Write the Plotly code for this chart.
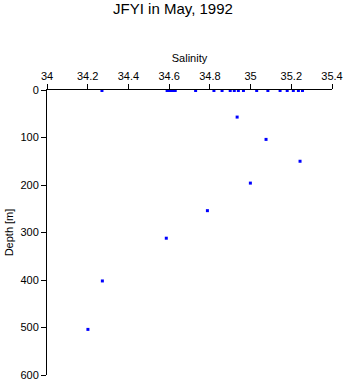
import plotly.graph_objects as go

# Near-surface samples (depth ~0 m)
surf_salinity = [34.27, 34.59, 34.60, 34.61, 34.62, 34.63, 34.73, 34.82, 34.86,
                 34.90, 34.92, 34.94, 34.965, 35.03, 35.085, 35.145, 35.18,
                 35.21, 35.235, 35.255]
surf_depth = [1, 1, 1, 1, 1, 1, 1, 1, 1, 1, 1, 1, 1, 1, 1, 1, 1, 1, 1, 1]

# Deeper samples
deep_salinity = [34.934, 35.076, 35.243, 34.999, 34.788, 34.586, 34.272, 34.201]
deep_depth = [57, 104, 150, 196, 254, 312, 402, 504]

salinity = surf_salinity + deep_salinity
depth = surf_depth + deep_depth

x_ticks = [34, 34.2, 34.4, 34.6, 34.8, 35, 35.2, 35.4]
x_ticklabels = ["34", "34.2", "34.4", "34.6", "34.8", "35", "35.2", "35.4"]
y_ticks = [0, 100, 200, 300, 400, 500, 600]

fig = go.Figure()
fig.add_trace(go.Scatter(
    x=salinity, y=depth, mode="markers",
    marker=dict(symbol="square", size=3, color="#0000ff", line=dict(width=0)),
    cliponaxis=False, showlegend=False,
))

font = dict(family="Liberation Sans, Arial, Helvetica, sans-serif", size=11, color="black")

fig.update_layout(
    width=346, height=384,
    margin=dict(l=47, r=14, t=90, b=9, autoexpand=False),
    paper_bgcolor="white", plot_bgcolor="white",
    font=font,
    title=dict(text="JFYI in May, 1992", x=0.5, xanchor="center",
               y=1 - 9/384, yanchor="middle", yref="container",
               font=dict(family="Liberation Sans, Arial, Helvetica, sans-serif", size=15, color="black")),
    xaxis=dict(
        side="top", range=[34, 35.4], tickvals=x_ticks, ticktext=x_ticklabels,
        showline=True, linecolor="black", linewidth=1, mirror=False,
        ticks="outside", ticklen=5, tickcolor="black", tickwidth=1,
        showgrid=False, zeroline=False, automargin=False,
        title=dict(text="Salinity", standoff=4, font=font),
    ),
    yaxis=dict(
        range=[600, 0], tickvals=y_ticks,
        showline=True, linecolor="black", linewidth=1,
        ticks="outside", ticklen=5, tickcolor="black", tickwidth=1,
        showgrid=False, zeroline=False, automargin=False,
        title=dict(text="Depth [m]", standoff=4, font=font),
    ),
)

fig.write_html("out.html")
